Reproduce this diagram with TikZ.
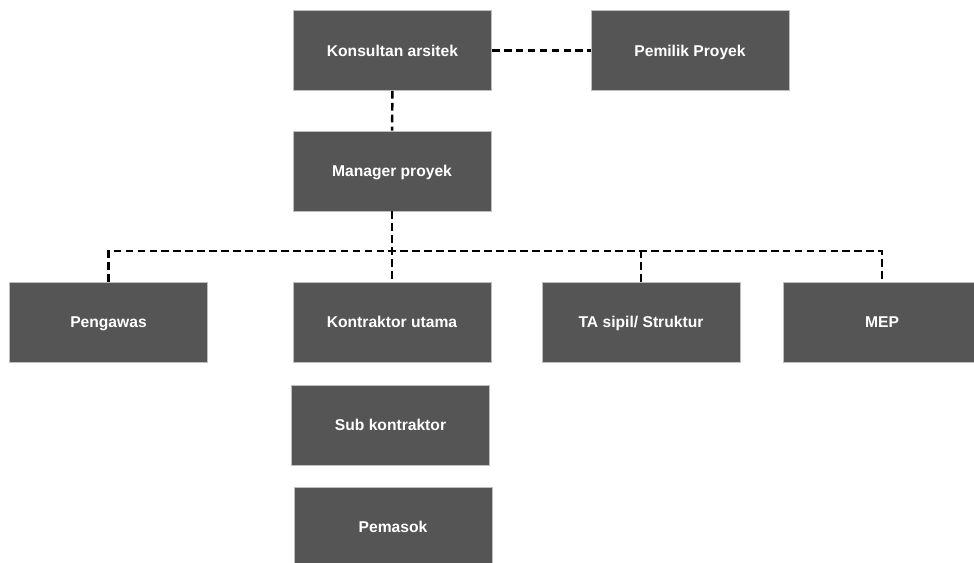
\documentclass[tikz,border=0pt]{standalone}
\usepackage{fontspec}
\setmainfont{Liberation Sans}
\usetikzlibrary{positioning}
\definecolor{boxgray}{RGB}{85,85,85}
\definecolor{edgegray}{RGB}{190,190,190}

\begin{document}
\begin{tikzpicture}[x=0.02cm, y=-0.02cm,
    orgbox/.style={rectangle, fill=boxgray, draw=edgegray, line width=0.4pt,
        minimum width=3.96cm, minimum height=1.6cm, inner sep=0pt,
        text height=1.6ex, text depth=0.4ex,
        text=white, font=\fontsize{8.9}{10}\selectfont\bfseries},
    link/.style={draw=black, line width=1.4pt, dash pattern=on 4.4pt off 2.4pt}]
\useasboundingbox (0,0) rectangle (974,562);
\clip (0,0) rectangle (974,562);

% Top level
\node[orgbox] (konsultan) at (392.5,50.5) {Konsultan arsitek};
\node[orgbox] (pemilik) at (690,50.5) {Pemilik Proyek};
\node[orgbox] (manager) at (392,171) {Manager proyek};

% Second level
\node[orgbox] (pengawas) at (108.5,322) {Pengawas};
\node[orgbox] (kontraktor) at (392,322) {Kontraktor utama};
\node[orgbox] (tasipil) at (641,322) {TA sipil/ Struktur};
\node[orgbox] (mep) at (882,322) {MEP};

% Below contractor
\node[orgbox] (subkon) at (390.5,425) {Sub kontraktor};
\node[orgbox] (pemasok) at (393,527) {Pemasok};

\coordinate (bus) at (392,251);

% Connections
\draw[link] (konsultan) -- (pemilik);
\draw[link] (konsultan) -- (manager);
\draw[link] (manager) -- (kontraktor);
\draw[link] (pengawas.north) |- (bus) -| (mep.north);
\draw[link] (tasipil.north) -- (tasipil.north |- bus);
\end{tikzpicture}
\end{document}
